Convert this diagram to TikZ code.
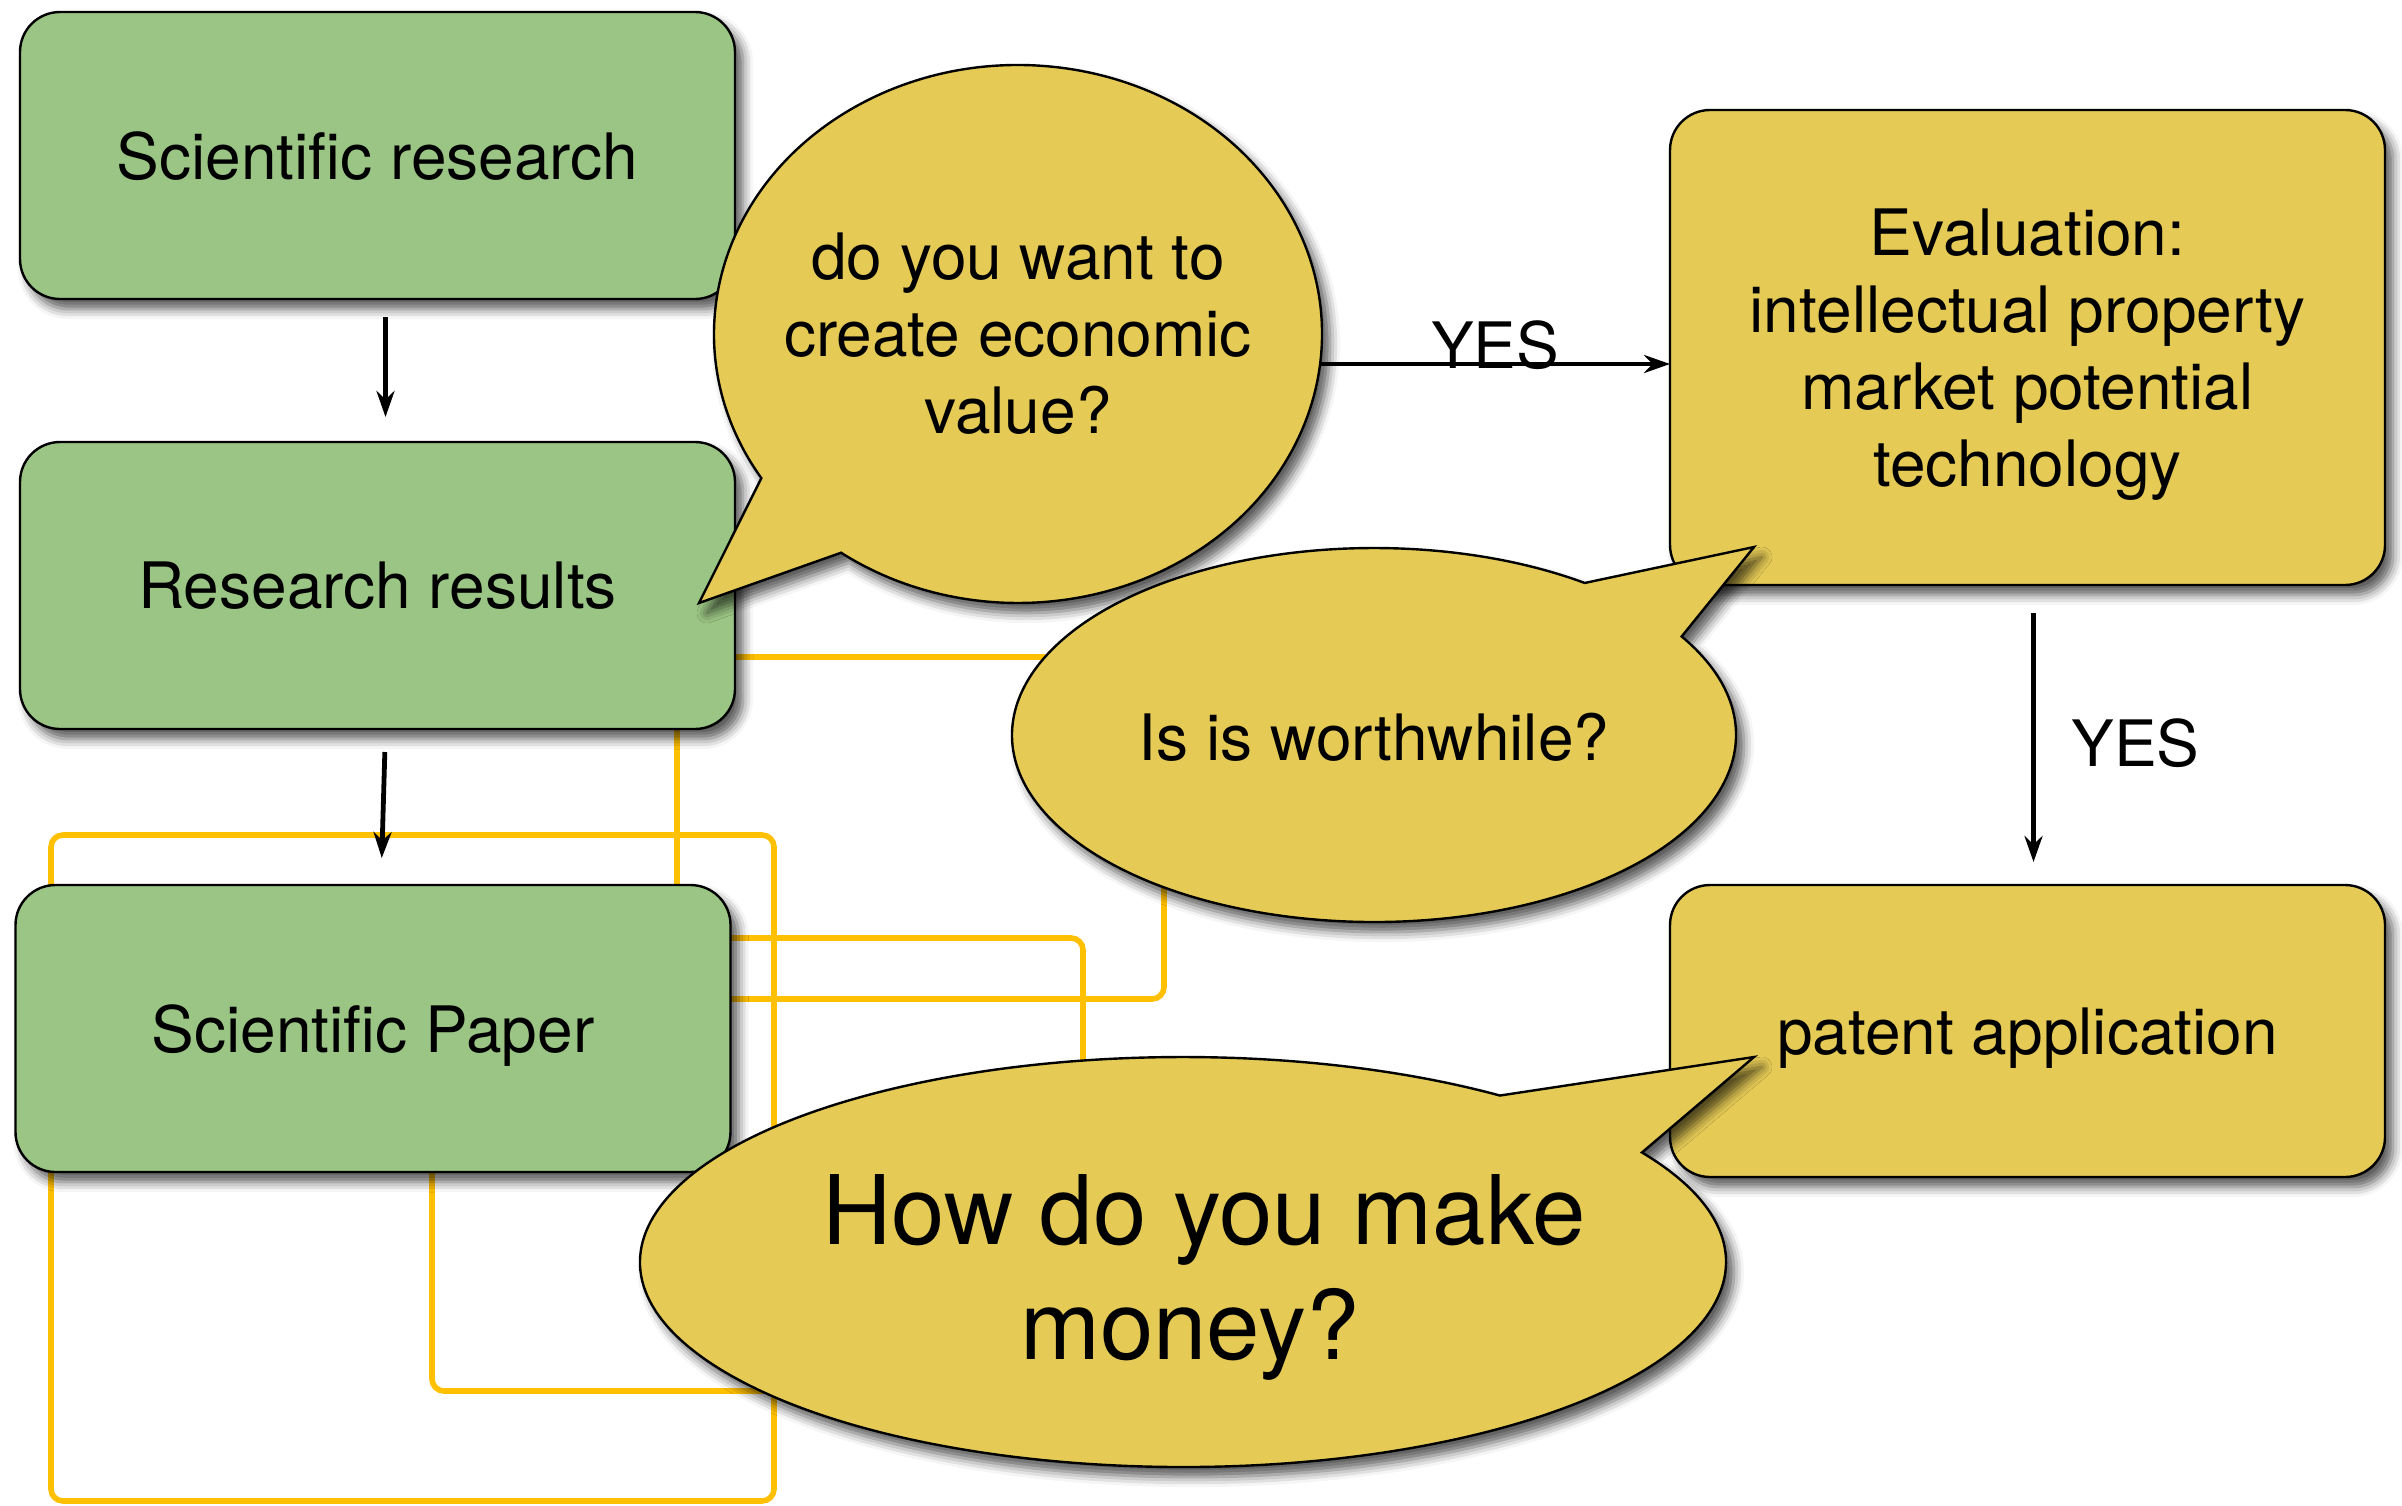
\documentclass[tikz,border=0pt]{standalone}
\usepackage{fontspec}
\setmainfont{TeX Gyre Heros}
\usetikzlibrary{arrows.meta,shapes.geometric,shadows.blur}

\definecolor{boxgreen}{RGB}{155,197,132}
\definecolor{boxgold}{RGB}{229,202,86}
\definecolor{wireorange}{RGB}{255,192,0}

\begin{document}
\begin{tikzpicture}[x=0.5pt,y=-0.5pt,
    every node/.style={font=\fontsize{32}{38.5}\selectfont},
    softshadow/.style={blur shadow={shadow xshift=4pt, shadow yshift=-5pt,
        shadow blur radius=5pt, shadow opacity=65}},
    flowbox/.style={draw, line width=1.2pt, rounded corners=20pt, text depth=0pt,
        minimum width=357.5pt, inner sep=0pt, outer sep=0pt, align=center, softshadow},
    greenbox/.style={flowbox, fill=boxgreen, minimum height=143.5pt},
    goldbox/.style={flowbox, fill=boxgold},
    bubble/.style={draw, line width=1.2pt, fill=boxgold, softshadow},
    bubbletext/.style={ellipse, inner sep=0pt, outer sep=0pt, align=center},
    wire/.style={draw=wireorange, line width=2.8pt, rounded corners=6pt},
    flow/.style={-{Stealth[length=13pt,width=9pt]}, line width=2.4pt}]
  \useasboundingbox (0,0) rectangle (2402,1505);

  % the yellow lines behind
  \draw[wire] (735,657) -| (1164,999) -- (731,999);
  \draw[wire] (677,728) -- (677,885);
  \draw[wire] (51,835) rectangle (774,1501);
  \draw[wire] (731,938) -| (1083,1391) -| (432,1172);

  % left column
  \node[greenbox] (research) at (377.5,155.5) {Scientific research};
  \node[greenbox] (results) at (377.5,585.5) {Research results};
  \node[greenbox] (paper) at (373,1028.5) {Scientific Paper};

  % right column
  \node[goldbox, minimum height=237.5pt] (eval) at (2027.5,347.5)
    {Evaluation:\\intellectual property\\market potential\\technology};
  \node[goldbox, minimum height=146pt] (patent) at (2027.5,1031) {patent application};

  \draw[flow, shorten <=9pt, shorten >=12.5pt] ([xshift=4pt]research.south) -- ([xshift=4pt]results.north);
  \draw[flow, shorten <=11.5pt, shorten >=13.5pt] ([xshift=4pt]results.south) -- ([xshift=4pt]paper.north);
  \draw[flow, shorten <=14pt, shorten >=11.5pt] ([xshift=3pt]eval.south) -- ([xshift=3pt]patent.north)
    node[midway, right=14.5pt, yshift=-4pt] {YES};

  % bubbles
  \coordinate (valuec) at (1018,334);
  \draw[flow] ([yshift=-15pt]valuec) -- ([yshift=-15pt]valuec -| eval.west)
    node[pos=0.732, yshift=9.5pt] {YES};
  \path[bubble] (valuec) ++(147.6:304 and 269)
    arc[start angle=147.6, end angle=485.6, x radius=304, y radius=269] -- (699,603) -- cycle;
  \node[bubbletext] (value) at (valuec) {do you want to\\create economic\\value?};

  \path[bubble] (1374,735) ++(328.2:362 and 187)
    arc[start angle=328.2, end angle=665.6, x radius=362, y radius=187] -- (1754,547) -- cycle;
  \node[bubbletext] (worth) at (1374,737) {Is is worthwhile?};

  \path[bubble] (1183,1262) ++(327.7:543 and 205)
    arc[start angle=327.7, end angle=665.7, x radius=543, y radius=205] -- (1754,1057) -- cycle;
  \node[bubbletext, font=\fontsize{48}{57.5}\selectfont] (money) at (1204,1277)
    {How do you make\\money?\hspace*{14pt}};
\end{tikzpicture}
\end{document}
